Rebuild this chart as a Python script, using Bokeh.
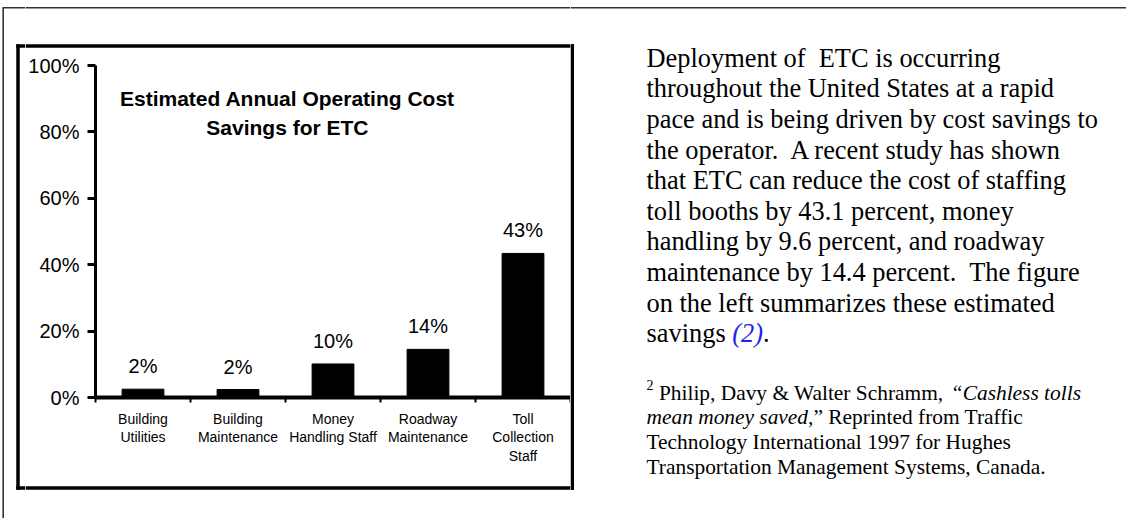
from bokeh.plotting import figure
from bokeh.models import Range1d, FixedTicker, NumeralTickFormatter, ColumnDataSource
from bokeh.layouts import row, column
from bokeh.core.properties import value
from bokeh.embed import file_html
from bokeh.resources import INLINE

# ---------------- data ----------------
categories = ["Building\nUtilities", "Building\nMaintenance", "Money\nHandling Staff",
              "Roadway\nMaintenance", "Toll\nCollection\nStaff"]
savings = [0.025, 0.024, 0.101, 0.145, 0.434]
savings_labels = ["2%", "2%", "10%", "14%", "43%"]
y_ticks = [0, 0.2, 0.4, 0.6, 0.8, 1.0]
chart_title = ["Estimated Annual Operating Cost", "Savings for ETC"]

body_lines = [
    "Deployment of\u00a0 ETC is occurring",
    "throughout the United States at a rapid",
    "pace and is being driven by cost savings to",
    "the operator.\u00a0 A recent study has shown",
    "that ETC can reduce the cost of staffing",
    "toll booths by 43.1 percent, money",
    "handling by 9.6 percent, and roadway",
    "maintenance by 14.4 percent.\u00a0 The figure",
    "on the left summarizes these estimated",
]
body_last = ["savings ", "(2)", "."]
footnote_mark = "2"
footnote_line1 = ["Philip, Davy & Walter Schramm, ", "\u201cCashless tolls"]
footnote_line2 = ["mean money saved,", "\u201d Reprinted from Traffic"]
footnote_rest = ["Technology International 1997 for Hughes",
                 "Transportation Management Systems, Canada."]

SANS = "Liberation Sans"
SERIF = "Liberation Serif"
OUTER = "#333333"
INNER_W = 3.5
OUTER_W = 1.6

# ---------------- page-region helper ----------------
def region(x0, x1, y0, y1):
    f = figure(width=int(x1 - x0), height=int(y1 - y0), output_backend="svg",
               toolbar_location=None, x_range=Range1d(x0, x1), y_range=Range1d(y1, y0),
               x_axis_location=None, y_axis_location=None, min_border=0)
    f.outline_line_color = None
    f.background_fill_color = "white"
    f.border_fill_color = "white"
    f.xgrid.visible = False
    f.ygrid.visible = False
    f.frame_align = False
    return f

def seg(f, x0, y0, x1, y1, w, c):
    f.segment(x0=[x0], y0=[y0], x1=[x1], y1=[y1], line_width=w, line_color=c,
              line_cap="butt")

# box geometry (page pixels)
BL, BR, BT, BB = 17.5, 571.75, 45.5, 487.5
OL, OT = 2.7, 7.3
h = INNER_W / 2

# ---------------- left strip ----------------
left = region(0, 25, 0, 518)
seg(left, OL, OT - OUTER_W / 2, OL, 518, OUTER_W, OUTER)
seg(left, OL, OT, 25, OT, OUTER_W, OUTER)
seg(left, BL, BT - h, BL, BB + h, INNER_W, "black")
seg(left, BL - h, BT, 25, BT, INNER_W, "black")
seg(left, BL - h, BB, 25, BB, INNER_W, "black")

# ---------------- top middle ----------------
top = region(25, 570, 0, 48)
seg(top, 25, OT, 570, OT, OUTER_W, OUTER)
seg(top, 25, BT, 570, BT, INNER_W, "black")

# ---------------- bottom middle ----------------
bot = region(25, 570, 484, 518)
seg(bot, 25, BB, 570, BB, INNER_W, "black")

# ---------------- chart ----------------
n = len(categories)
xs = [i + 0.5 for i in range(n)]
src = ColumnDataSource(dict(x=xs, top=savings, lab=savings_labels))

p = figure(width=545, height=436, output_backend="svg", toolbar_location=None,
           x_range=Range1d(0, n), y_range=Range1d(0, 1),
           min_border_left=70, min_border_right=0, min_border_top=17,
           min_border_bottom=87)
p.frame_align = False
p.background_fill_color = "white"
p.border_fill_color = "white"
p.outline_line_color = None
p.grid.visible = False

p.vbar(x="x", top="top", bottom=0, width=0.44, source=src,
       fill_color="black", line_color="black")
p.text(x="x", y="top", text="lab", source=src, text_font=value(SANS),
       text_font_size="20px", text_align="center", text_baseline="alphabetic",
       y_offset=-23, text_color="black")

p.text(x=[2.02, 2.02], y=[0.8765, 0.7892], text=chart_title, text_font=value(SANS),
       text_font_style="bold", text_font_size="21px", text_align="center",
       text_baseline="alphabetic", y_offset=-8, text_color="black")

ya = p.yaxis[0]
ya.ticker = FixedTicker(ticks=y_ticks, minor_ticks=[])
ya.formatter = NumeralTickFormatter(format="0%")
ya.major_label_text_font = SANS
ya.major_label_text_font_size = "20px"
ya.major_label_text_color = "black"
ya.major_tick_out = 8
ya.major_tick_in = 0
ya.major_tick_line_width = 3
ya.axis_line_width = 3
ya.major_label_standoff = 8

xa = p.xaxis[0]
xa.ticker = FixedTicker(ticks=xs, minor_ticks=list(range(n + 1)))
xa.major_label_overrides = {x: c for x, c in zip(xs, categories)}
xa.major_label_text_font = SANS
xa.major_label_text_font_size = "14px"
xa.major_label_text_color = "black"
xa.major_label_text_line_height = 1.17
xa.major_tick_line_color = None
xa.major_tick_out = 0
xa.major_tick_in = 0
xa.minor_tick_out = 5
xa.minor_tick_in = 0
xa.minor_tick_line_width = 2
xa.axis_line_width = 4
xa.major_label_standoff = 8

# ---------------- right side ----------------
rt = region(570, 1126, 0, 518)
seg(rt, 570, OT, 1126, OT, OUTER_W, OUTER)
seg(rt, 570, BT, BR + h, BT, INNER_W, "black")
seg(rt, 570, BB, BR + h, BB, INNER_W, "black")
seg(rt, BR, BT - h, BR, BB + h, INNER_W, "black")

def txt(xv, yv, texts, size, dy, style="normal", color="black"):
    rt.text(x=xv, y=yv, text=texts, text_font=value(SERIF), text_font_size=size,
            text_font_style=style, text_align="left", text_baseline="alphabetic",
            y_offset=dy, text_color=color)

B, F, S = "26.4px", "21.4px", "14px"
dB, dF, dS = -9.5, -7.5, -5
x0 = 646
body_y = [66.7 + i * 30.6 for i in range(len(body_lines))]
txt([x0] * len(body_lines), body_y, body_lines, B, dB)
yl = 66.7 + len(body_lines) * 30.6
txt([x0], [yl], [body_last[0]], B, dB)
txt([731.8], [yl], [body_last[1]], B, dB, "italic", "#2323e8")
txt([762.6], [yl], [body_last[2]], B, dB)

txt([x0], [389.5], [footnote_mark], S, dS)
txt([658.4], [399.7], [footnote_line1[0]], F, dF)
txt([950.3], [399.7], [footnote_line1[1]], F, dF, "italic")
txt([x0], [424.2], [footnote_line2[0]], F, dF, "italic")
txt([813.0], [424.2], [footnote_line2[1]], F, dF)
txt([x0, x0], [448.9, 473.8], footnote_rest, F, dF)

layout = row(left, column(top, p, bot, spacing=0), rt, spacing=0)
open("out.html", "w").write(file_html(layout, INLINE))
